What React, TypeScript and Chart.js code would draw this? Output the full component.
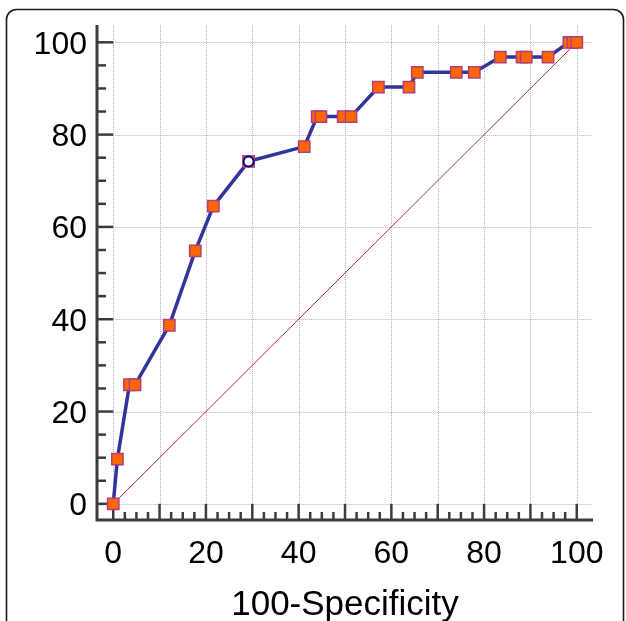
import React, { useEffect, useRef } from "react";
import { Chart, registerables } from "chart.js";

Chart.register(...registerables);

// ROC curve points: 100-Specificity (x) vs Sensitivity (y)
const fprValues = [0, 0.9, 3.5, 4.7, 12.1, 17.7, 21.6, 29.2, 41.2, 44.0, 44.8, 49.6, 51.3, 57.2, 63.8, 65.6, 74.0, 77.9, 83.5, 88.2, 89.1, 93.8, 98.3, 99.2, 100];
const tprValues = [0, 9.7, 25.8, 25.8, 38.7, 54.8, 64.5, 74.2, 77.4, 83.9, 83.9, 83.9, 83.9, 90.3, 90.3, 93.5, 93.5, 93.5, 96.8, 96.8, 96.8, 96.8, 100, 100, 100];
// Optimal criterion point (open circle)
const optimalX = [29.2];
const optimalY = [74.2];
// Reference diagonal
const diagX = [0, 100];
const diagY = [0, 100];

const xMajorTicks = [0, 10, 20, 30, 40, 50, 60, 70, 80, 90, 100];
const xLabelTicks = [0, 20, 40, 60, 80, 100];
const yMajorTicks = [0, 20, 40, 60, 80, 100];
const xMinorStep = 2.5;
const yMinorStep = 5;
const xTitle = "100-Specificity";

const FONT = "'Liberation Sans', Arial, Helvetica, sans-serif";

const axesPlugin = {
  id: "customAxes",
  beforeDraw(chart: any) {
    const ctx = chart.ctx;
    ctx.save();
    ctx.fillStyle = "#ffffff";
    ctx.fillRect(0, 0, chart.width, chart.height);
    // frame
    const x0 = 6.5, y0 = 9.5, x1 = 623.5, y1 = 660, r = 10;
    ctx.beginPath();
    ctx.moveTo(x0 + r, y0);
    ctx.lineTo(x1 - r, y0);
    ctx.arcTo(x1, y0, x1, y0 + r, r);
    ctx.lineTo(x1, y1);
    ctx.lineTo(x0, y1);
    ctx.lineTo(x0, y0 + r);
    ctx.arcTo(x0, y0, x0 + r, y0, r);
    ctx.closePath();
    ctx.lineWidth = 1.6;
    ctx.strokeStyle = "#1a1a1a";
    ctx.stroke();
    ctx.restore();
  },
  beforeDatasetsDraw(chart: any) {
    const ctx = chart.ctx;
    const xs = chart.scales.x;
    const ys = chart.scales.y;
    const area = chart.chartArea;
    const px0 = xs.getPixelForValue(0);
    const py0 = ys.getPixelForValue(0);
    ctx.save();
    // grid
    ctx.strokeStyle = "#b4b4b4";
    ctx.lineWidth = 1;
    ctx.setLineDash([1, 1]);
    for (const v of xMajorTicks) {
      const p = Math.round(xs.getPixelForValue(v)) + 0.5;
      ctx.beginPath();
      ctx.moveTo(p, area.top);
      ctx.lineTo(p, py0);
      ctx.stroke();
    }
    for (const v of yMajorTicks) {
      const p = Math.round(ys.getPixelForValue(v)) + 0.5;
      ctx.beginPath();
      ctx.moveTo(px0, p);
      ctx.lineTo(area.right, p);
      ctx.stroke();
    }
    ctx.setLineDash([]);
    // axis lines
    ctx.strokeStyle = "#3c3c3c";
    ctx.lineWidth = 3;
    ctx.beginPath();
    ctx.moveTo(area.left, area.top);
    ctx.lineTo(area.left, area.bottom);
    ctx.lineTo(area.right, area.bottom);
    ctx.stroke();
    // ticks
    ctx.lineWidth = 2.5;
    for (let v = 0; v <= 100 + 1e-6; v += xMinorStep) {
      const p = xs.getPixelForValue(v);
      const major = Math.abs(v % 10) < 1e-6;
      ctx.beginPath();
      ctx.moveTo(p, area.bottom);
      ctx.lineTo(p, major ? py0 : area.bottom - 8);
      ctx.stroke();
    }
    for (let v = 0; v <= 100 + 1e-6; v += yMinorStep) {
      const p = ys.getPixelForValue(v);
      const major = Math.abs(v % 20) < 1e-6;
      ctx.beginPath();
      ctx.moveTo(area.left, p);
      ctx.lineTo(major ? px0 : area.left + 9, p);
      ctx.stroke();
    }
    // labels
    ctx.fillStyle = "#000000";
    ctx.font = `32px ${FONT}`;
    ctx.textBaseline = "alphabetic";
    ctx.textAlign = "center";
    for (const v of xLabelTicks) {
      ctx.fillText(String(v), xs.getPixelForValue(v), 563);
    }
    ctx.textAlign = "right";
    for (const v of yMajorTicks) {
      ctx.fillText(String(v), 87, ys.getPixelForValue(v) + 11.5);
    }
    ctx.textAlign = "center";
    ctx.font = `35px ${FONT}`;
    ctx.fillText(xTitle, (area.left + area.right) / 2, 615);
    ctx.restore();
  },
};

export default function App() {
  const canvasRef = useRef<HTMLCanvasElement | null>(null);

  useEffect(() => {
    const canvas = canvasRef.current;
    if (!canvas) return;
    const chart = new Chart(canvas, {
      type: "scatter",
      data: {
        datasets: [
          {
            data: optimalX.map((x, i) => ({ x, y: optimalY[i] })),
            showLine: false,
            pointStyle: "circle",
            pointRadius: 5,
            pointBackgroundColor: "#ffffff",
            pointBorderColor: "#000080",
            pointBorderWidth: 2,
            order: 1,
          },
          {
            data: fprValues.map((x, i) => ({ x, y: tprValues[i] })),
            showLine: true,
            borderColor: "#333399",
            borderWidth: 3.5,
            pointStyle: "rect",
            pointRadius: 8,
            pointBackgroundColor: "#ff6600",
            pointBorderColor: "#b0407a",
            pointBorderWidth: 1.5,
            order: 2,
          },
          {
            data: diagX.map((x, i) => ({ x, y: diagY[i] })),
            showLine: true,
            borderColor: "#b03030",
            borderWidth: 1,
            pointRadius: 0,
            order: 3,
          },
        ],
      },
      options: {
        responsive: false,
        animation: false,
        devicePixelRatio: 1,
        layout: { padding: { left: 97, top: 25, right: 33, bottom: 101 } },
        plugins: {
          legend: { display: false },
          tooltip: { enabled: false },
        },
        scales: {
          x: { type: "linear", min: -3.5, max: 103.5, display: false },
          y: { type: "linear", min: -3.5, max: 103.75, display: false },
        },
      },
      plugins: [axesPlugin],
    });
    return () => chart.destroy();
  }, []);

  return (
    <div style={{ position: "fixed", left: 0, top: 0, width: 626, height: 621 }}>
      <canvas ref={canvasRef} width={626} height={621} style={{ display: "block" }} />
    </div>
  );
}
